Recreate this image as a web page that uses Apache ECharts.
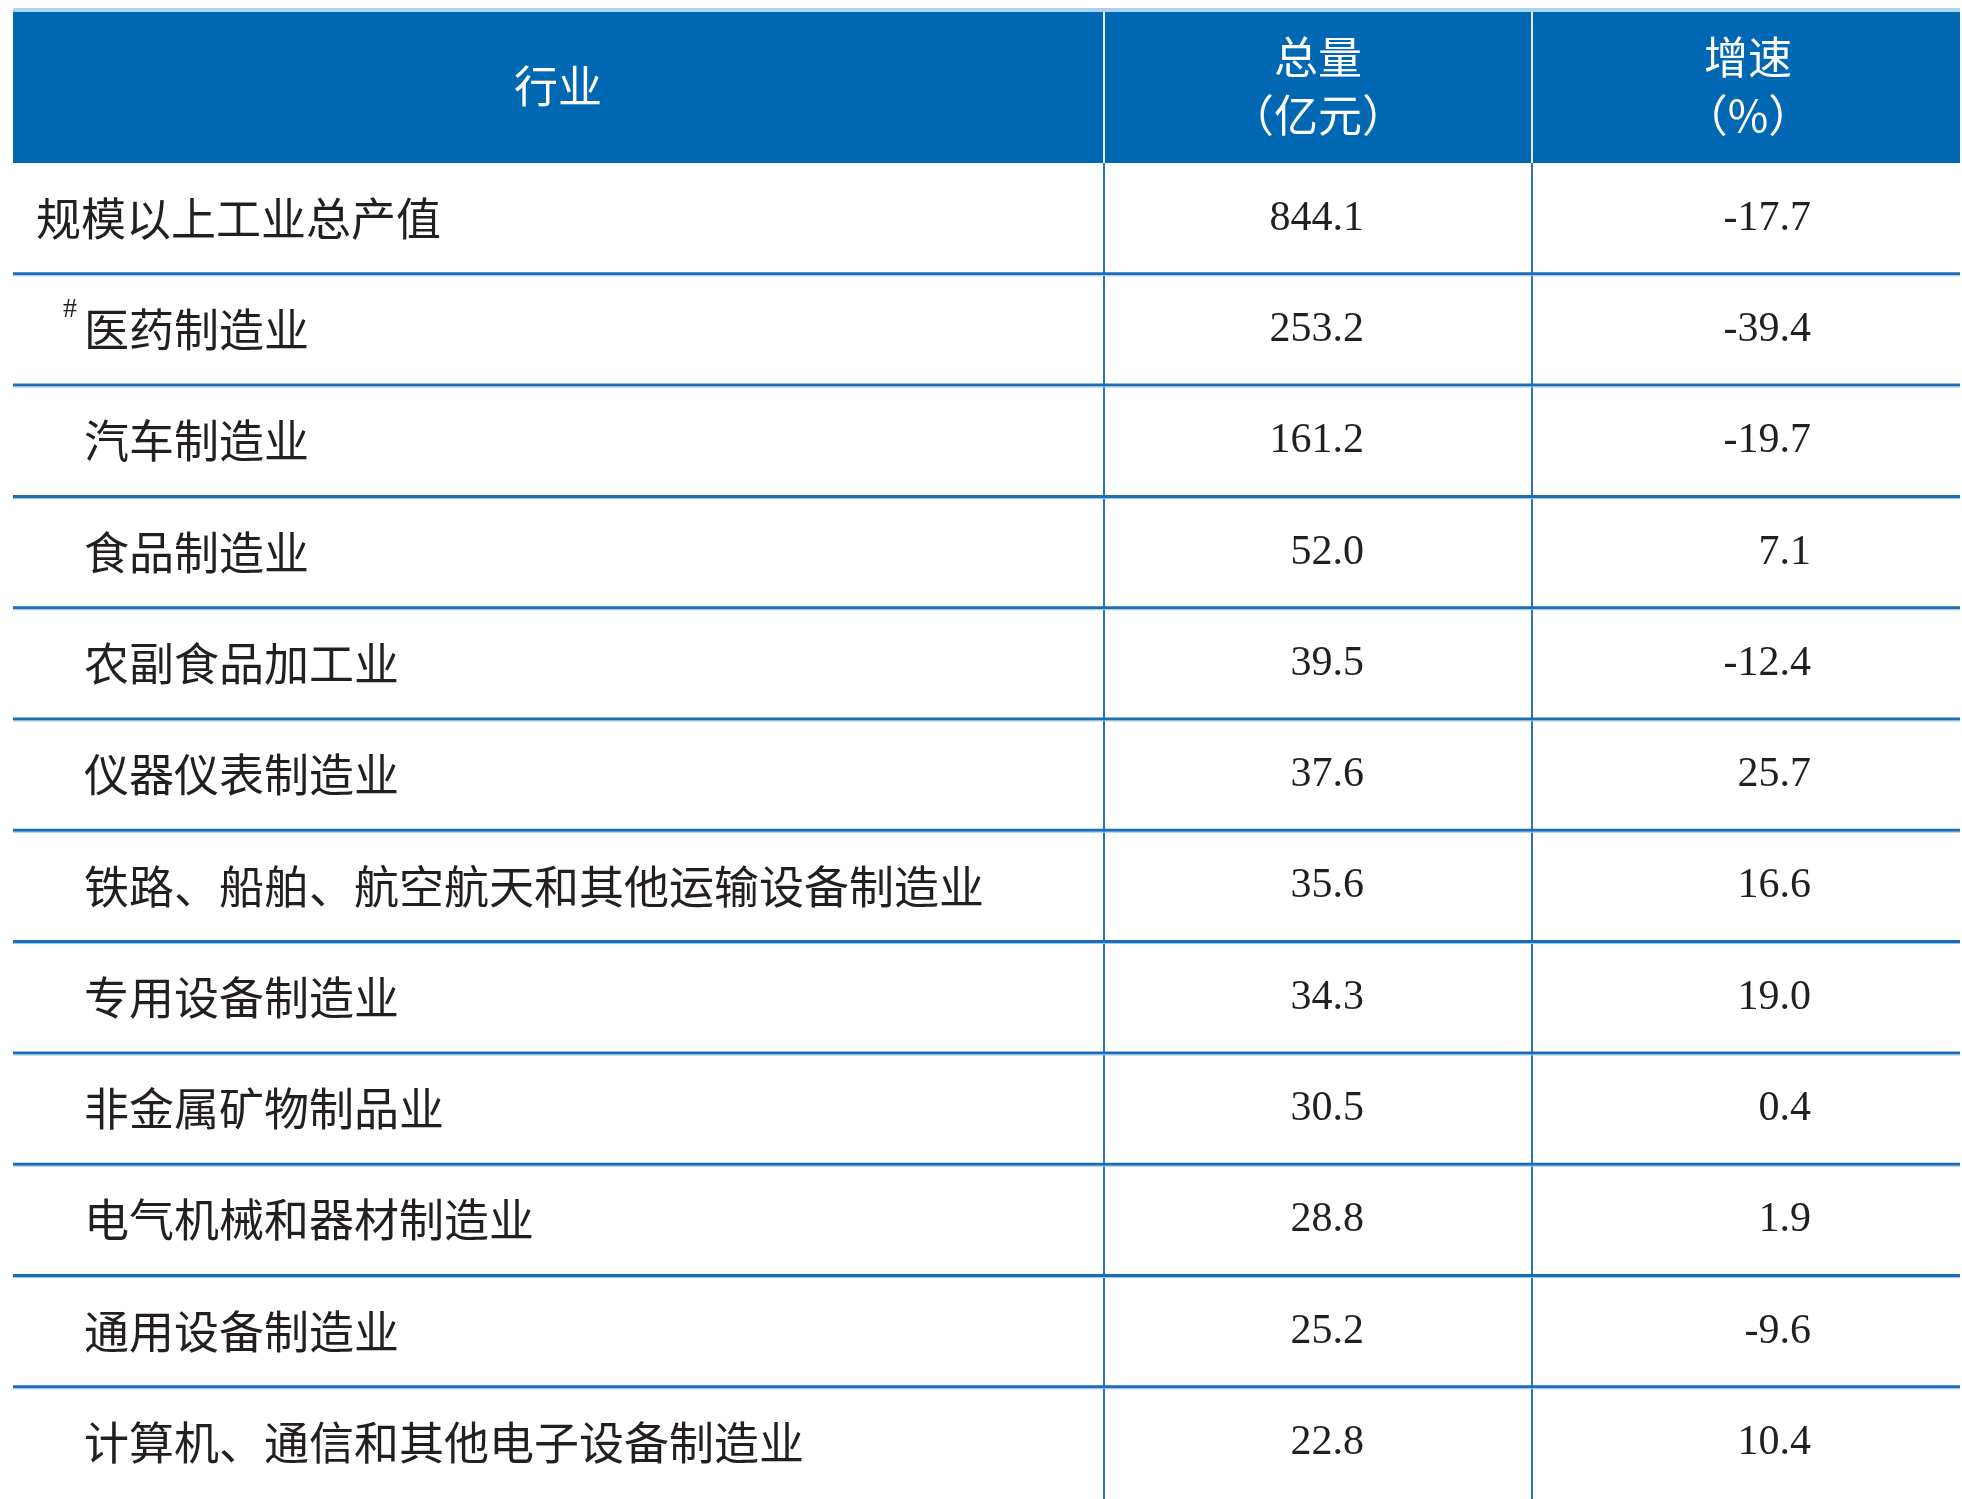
<!DOCTYPE html>
<html><head><meta charset="utf-8">
<script src="https://cdn.jsdelivr.net/npm/echarts@6/dist/echarts.min.js"></script>
<style>html,body{margin:0;padding:0;background:#fff}#c{width:1962px;height:1499px}</style>
</head><body><div id="c"></div>
<script>
const industries = ['规模以上工业总产值','医药制造业','汽车制造业','食品制造业','农副食品加工业','仪器仪表制造业','铁路、船舶、航空航天和其他运输设备制造业','专用设备制造业','非金属矿物制品业','电气机械和器材制造业','通用设备制造业','计算机、通信和其他电子设备制造业'];
const totals = ['844.1','253.2','161.2','52.0','39.5','37.6','35.6','34.3','30.5','28.8','25.2','22.8'];
const growth = ['-17.7','-39.4','-19.7','7.1','-12.4','25.7','16.6','19.0','0.4','1.9','-9.6','10.4'];
const headers = ['行业','总量\n（亿元）','增速\n（%）'];

const L=13,R=1960,C1=1104,C2=1532,HT=12,HB=163,RH=111.3,BOT=1499;
const BLUE='#0067b2';
const cjk='"Noto Sans CJK SC", sans-serif', num='"Liberation Serif", serif';
const g=[];
g.push({type:'rect',shape:{x:L,y:HT-4,width:R-L,height:4},style:{fill:'#a9d3ef'}});
g.push({type:'rect',shape:{x:L,y:HT,width:R-L,height:HB-HT},style:{fill:BLUE}});
g.push({type:'rect',shape:{x:C1-1,y:HT,width:2,height:HB-HT},style:{fill:'#e6eef7'}});
g.push({type:'rect',shape:{x:C2-1,y:HT,width:2,height:HB-HT},style:{fill:'#e6eef7'}});
const hc=[558,1318,1748];
headers.forEach((h,i)=>g.push({type:'text',x:hc[i],y:86,style:{text:h,fill:'#fff',font:'44px '+cjk,align:'center',verticalAlign:'middle',lineHeight:58}}));
g.push({type:'line',shape:{x1:C1,y1:HB,x2:C1,y2:BOT},style:{stroke:'#2b74bb',lineWidth:2}});
g.push({type:'line',shape:{x1:C2,y1:HB,x2:C2,y2:BOT},style:{stroke:'#2b74bb',lineWidth:2}});
industries.forEach((name,i)=>{
  const top=HB+i*RH, cy=top+RH/2;
  if(i>0){
    g.push({type:'rect',shape:{x:L,y:top-2,width:R-L,height:3},style:{fill:'#1a6db6'}});
    g.push({type:'rect',shape:{x:L,y:top+1,width:R-L,height:1},style:{fill:'#9cc8ec'}});
  }
  const x=i===0?36:84;
  g.push({type:'text',x:x,y:cy,style:{text:name,fill:'#231f20',font:'45px '+cjk,verticalAlign:'middle'}});
  if(i===1) g.push({type:'text',x:63,y:cy-20,style:{text:'#',fill:'#231f20',font:'28px '+num,verticalAlign:'middle'}});
  g.push({type:'text',x:1364,y:cy,style:{text:totals[i],fill:'#231f20',font:'42px '+num,align:'right',verticalAlign:'middle'}});
  g.push({type:'text',x:1811,y:cy,style:{text:growth[i],fill:'#231f20',font:'42px '+num,align:'right',verticalAlign:'middle'}});
});
const chart=echarts.init(document.getElementById('c'));
chart.setOption({animation:false,graphic:{elements:g}});
</script></body></html>
